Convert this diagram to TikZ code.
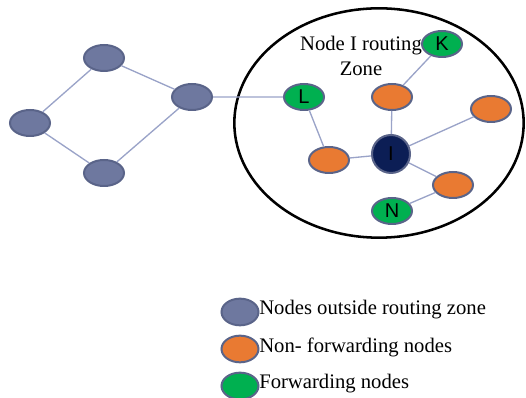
\documentclass[tikz,border=0pt]{standalone}
\usepackage{fontspec}
\setmainfont{Liberation Serif}
\newfontfamily\lettersf{Liberation Sans}
\usetikzlibrary{shapes.geometric}
\begin{document}
\begin{tikzpicture}[
        x=0.75pt, y=-0.75pt,
        nd/.style={ellipse, draw=rimg, line width=1.5pt, inner sep=0pt, text=black,
          minimum width=30pt, minimum height=19.5pt, font=\lettersf\fontsize{15}{15}\selectfont},
        outer/.style={nd, fill=slateg},
        nonfw/.style={nd, fill=orangeg},
        fw/.style={nd, fill=greeng},
        lnk/.style={draw=linkg, line width=1pt},
        ltxt/.style={anchor=west, inner sep=0pt, font=\fontsize{15.5}{18}\selectfont},
      ]
      \definecolor{slateg}{HTML}{6E789F}
      \definecolor{rimg}{HTML}{5A6489}
      \definecolor{orangeg}{HTML}{E97A32}
      \definecolor{greeng}{HTML}{00B050}
      \definecolor{navyg}{HTML}{0C1E55}
      \definecolor{linkg}{HTML}{9AA3C8}
      \path[use as bounding box] (0,0) rectangle (526,398);
      % routing zone
      \node[ellipse, draw=black, line width=1.9pt, minimum width=217pt, minimum height=172pt] (zone) at (379,123) {};
      \node[align=center, inner sep=0pt, font=\fontsize{15.5}{18.75}\selectfont] (title) at (361,56) {Node I routing\\Zone};
      % nodes outside the zone
      \node[outer] (a) at (30,123) {};
      \node[outer] (b) at (104,58) {};
      \node[outer] (c) at (104,173) {};
      \node[outer] (d) at (192,97) {};
      % nodes inside the zone
      \node[nd, fill=navyg, circle, minimum size=28.5pt] (i) at (391,154) {I};
      \node[fw] (l) at (304,97) {L};
      \node[fw] (k) at (442,44) {K};
      \node[fw] (n) at (392,211) {N};
      \node[nonfw] (o1) at (392,97) {};
      \node[nonfw] (o2) at (491,109) {};
      \node[nonfw] (o3) at (329,160) {};
      \node[nonfw] (o4) at (453,185) {};
      \draw[lnk] (a) -- (b) (a) -- (c) (b) -- (d) (c) -- (d) (d) -- (l);
      \draw[lnk] (l) -- (o3) (o3) -- (i) (i) -- (o1) (o1) -- (k) (i) -- (o2) (i) -- (o4) (o4) -- (n);
      % legend
      \node[outer, minimum width=27.75pt, minimum height=20pt] (k1) at (240,312) {};
      \node[nonfw, minimum width=27.75pt, minimum height=20pt] (k2) at (240,349) {};
      \node[fw, minimum width=27.75pt, minimum height=20pt] (k3) at (240,386) {};
      \node[ltxt] (t1) at (259,310) {Nodes outside routing zone};
      \node[ltxt] (t2) at (259,347) {Non- forwarding nodes};
      \node[ltxt] (t3) at (259,384) {Forwarding nodes};
    \end{tikzpicture}
\end{document}
